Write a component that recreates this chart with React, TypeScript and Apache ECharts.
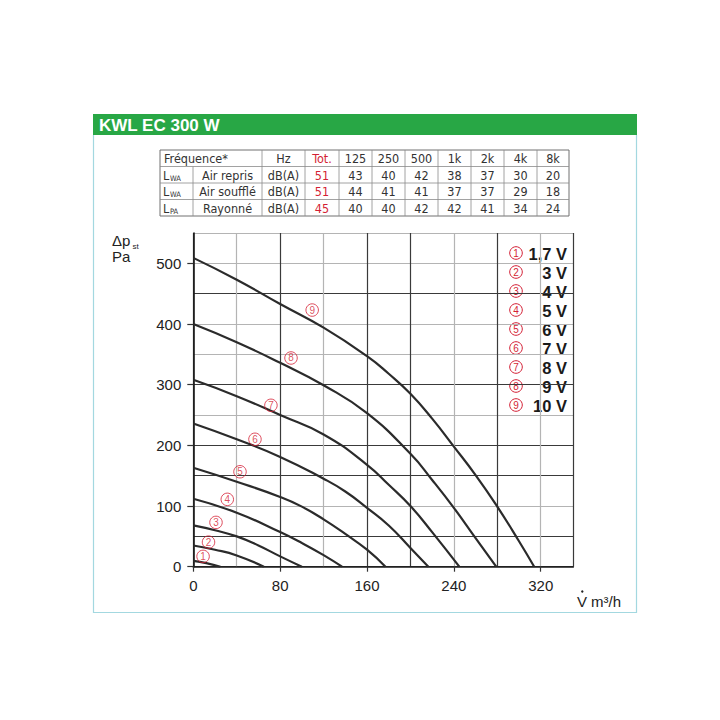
import React, { useEffect, useRef } from 'react';
import * as echarts from 'echarts';

// ---------- DATA ----------
const titleText = 'KWL EC 300 W';

const tableHeaderLabel = 'Fréquence*';
const tableUnitHeader = 'Hz';
const bandLabels = ['Tot.', '125', '250', '500', '1k', '2k', '4k', '8k'];
const rowQuantity = ['L', 'L', 'L'];
const rowQuantitySub = ['WA', 'WA', 'PA'];
const rowNames = ['Air repris', 'Air soufflé', 'Rayonné'];
const rowUnit = 'dB(A)';
const airReprisLevels = [51, 43, 40, 42, 38, 37, 30, 20];
const airSouffleLevels = [51, 44, 41, 41, 37, 37, 29, 18];
const rayonneLevels = [45, 40, 40, 42, 42, 41, 34, 24];

const curveMarks = ['1', '2', '3', '4', '5', '6', '7', '8', '9'];
const curveNames = ['1,7 V', '3 V', '4 V', '5 V', '6 V', '7 V', '8 V', '9 V', '10 V'];

const curve1_7V = [[0, 9.5], [12, 6], [25, 0]];
const curve3V = [[0, 35], [20, 28], [40, 18.5], [65, 0]];
const curve4V = [[0, 68], [20, 60], [40, 50], [60, 35], [80, 17], [100, 0]];
const curve5V = [[0, 112], [40, 89], [80, 57], [100, 39], [120, 19], [137, 0]];
const curve6V = [[0, 163], [40, 140], [80, 115], [100, 99], [120, 78], [140, 54], [160, 28], [177, 0]];
const curve7V = [[0, 236], [40, 210], [80, 181], [120, 145], [140, 124], [160, 97], [180, 68], [200, 31], [216.5, 0]];
const curve8V = [[0, 308], [40, 281], [80, 250], [120, 218], [160, 168], [180, 135], [200, 100], [220, 57], [245, 0]];
const curve9V = [[0, 400], [40, 370], [80, 336], [120, 299], [160, 253], [200, 186], [220, 143], [240, 97], [260, 47], [279, 0]];
const curve10V = [[0, 509], [40, 473], [80, 433], [120, 394], [160, 347], [180, 318], [200, 285], [220, 244], [240, 198], [260, 151], [280, 99], [300, 42], [314, 0]];
const curves = [curve1_7V, curve3V, curve4V, curve5V, curve6V, curve7V, curve8V, curve9V, curve10V];

const curveMarkPositions = [[9, 17], [14, 40.5], [20.9, 73], [31.3, 111], [43, 156.5], [56.8, 210], [71.5, 266], [90, 344], [109.5, 423]];

const xTickLabels = [0, 80, 160, 240, 320];
const yTickLabels = [0, 100, 200, 300, 400, 500];
const xDarkGrid = [0, 80, 160, 200, 280, 350];
const yDarkGrid = [0, 50, 150, 200, 300, 450];

// ---------- STYLE ----------
const FONT = "'Liberation Sans', Arial, Helvetica, sans-serif";
const NARROW = "'Liberation Sans Narrow', 'DejaVu Sans Condensed', 'Liberation Sans', sans-serif";
const RED = '#d41f35';
const DARK = '#3a3a3a';
const GRAY = '#b4b4b4';
const INK = '#2b2b2b';

const X_MIN = 0, X_MAX = 350, X_STEP = 40;
const Y_MIN = 0, Y_MAX = 550, Y_STEP = 50;

function gridColors(min: number, max: number, step: number, dark: number[]) {
  const out: string[] = [];
  for (let v = min; v < max; v += step) out.push(dark.includes(v) ? DARK : GRAY);
  out.push(dark.includes(max) ? DARK : GRAY);
  return out;
}

function buildGraphics() {
  const els: any[] = [];
  // frame
  const frameColor = '#a3d8e0';
  els.push({ type: 'rect', shape: { x: 93, y: 114, width: 544, height: 21 }, style: { fill: '#28a745' }, z: 1 });
  els.push({
    type: 'text', x: 99, y: 125, z: 2,
    style: { text: titleText, fill: '#ffffff', font: `bold 17px ${FONT}`, verticalAlign: 'middle', align: 'left' },
  });
  els.push({ type: 'polyline', shape: { points: [[93.5, 135], [93.5, 612.5], [636.5, 612.5], [636.5, 135]] }, style: { stroke: frameColor, lineWidth: 1.2, fill: 'none' }, z: 1 });

  // table
  const cols = [160, 193, 262, 305, 339, 372, 405, 438, 471, 504, 537, 569];
  const rows = [150, 166.5, 183, 199.5, 216];
  const tColor = '#333';
  els.push({ type: 'rect', shape: { x: cols[0], y: rows[0], width: cols[cols.length - 1] - cols[0], height: rows[rows.length - 1] - rows[0] }, style: { fill: '#fff', stroke: '#707070', lineWidth: 1 }, z: 1 });
  for (let r = 1; r < rows.length - 1; r++) {
    els.push({ type: 'line', shape: { x1: cols[0], y1: rows[r], x2: cols[cols.length - 1], y2: rows[r] }, style: { stroke: '#8a8a8a', lineWidth: 0.8 }, z: 1 });
  }
  els.push({ type: 'line', shape: { x1: cols[1], y1: rows[1], x2: cols[1], y2: rows[4] }, style: { stroke: '#8a8a8a', lineWidth: 0.8 }, z: 1 });
  for (let c = 2; c < cols.length - 1; c++) {
    els.push({ type: 'line', shape: { x1: cols[c], y1: rows[0], x2: cols[c], y2: rows[4] }, style: { stroke: '#8a8a8a', lineWidth: 0.8 }, z: 1 });
  }
  const cell = (text: string, x: number, y: number, align: string, color = tColor, size = 12.5) => ({
    type: 'text', x, y, z: 2,
    style: { text, fill: color, font: `${size}px ${NARROW}`, align, verticalAlign: 'middle' },
  });
  const midY = (r: number) => (rows[r] + rows[r + 1]) / 2 + 0.5;
  const midX = (c: number) => (cols[c] + cols[c + 1]) / 2;
  els.push(cell(tableHeaderLabel, 164, midY(0), 'left'));
  els.push(cell(tableUnitHeader, midX(2), midY(0), 'center'));
  bandLabels.forEach((b, i) => els.push(cell(b, midX(3 + i), midY(0), 'center', i === 0 ? RED : tColor)));
  const levels = [airReprisLevels, airSouffleLevels, rayonneLevels];
  for (let r = 0; r < 3; r++) {
    els.push(cell(rowQuantity[r], 163, midY(r + 1), 'left'));
    els.push(cell(rowQuantitySub[r], 170, midY(r + 1) + 3, 'left', tColor, 7.5));
    els.push(cell(rowNames[r], midX(1), midY(r + 1), 'center'));
    els.push(cell(rowUnit, midX(2), midY(r + 1), 'center'));
    levels[r].forEach((v, i) => els.push(cell(String(v), midX(3 + i), midY(r + 1), 'center', i === 0 ? RED : tColor)));
  }

  // axis names
  els.push({ type: 'text', x: 112, y: 233, style: { text: 'Δp', fill: '#222', font: `15px ${FONT}`, verticalAlign: 'top', lineHeight: 14 } });
  els.push({ type: 'text', x: 132.5, y: 242, style: { text: 'st', fill: '#222', font: `8px ${FONT}`, verticalAlign: 'top', lineHeight: 8 } });
  els.push({ type: 'text', x: 112, y: 249.5, style: { text: 'Pa', fill: '#222', font: `15px ${FONT}`, verticalAlign: 'top', lineHeight: 14 } });
  els.push({ type: 'text', x: 577, y: 601, style: { text: 'V', fill: '#222', font: `15px ${FONT}`, verticalAlign: 'middle' } });
  els.push({ type: 'circle', shape: { cx: 582.3, cy: 591.5, r: 1.2 }, style: { fill: '#222' } });
  els.push({ type: 'text', x: 591, y: 601, style: { text: 'm³/h', fill: '#222', font: `15px ${FONT}`, verticalAlign: 'middle' } });

  // legend
  const legendChildren: any[] = [
    { type: 'rect', shape: { x: 506, y: 237, width: 66, height: 180 }, style: { fill: '#ffffff' } },
  ];
  curveNames.forEach((n, i) => {
    const y = 253 + i * 19;
    legendChildren.push({ type: 'circle', shape: { cx: 516, cy: y, r: 6.3 }, style: { fill: 'none', stroke: RED, lineWidth: 1 } });
    legendChildren.push({ type: 'text', x: 516, y: y + 0.5, style: { text: curveMarks[i], fill: RED, font: `10px ${FONT}`, align: 'center', verticalAlign: 'middle', lineHeight: 10 } });
    legendChildren.push({ type: 'text', x: 567, y: y + 0.5, style: { text: n, fill: '#1a1a1a', font: `bold 16.5px ${FONT}`, align: 'right', verticalAlign: 'middle', lineHeight: 16 } });
  });
  els.push({ type: 'group', z: 20, children: legendChildren });
  return els;
}

function buildOption() {
  const xColors = gridColors(X_MIN, X_MAX, X_STEP, xDarkGrid);
  const yColors = gridColors(Y_MIN, Y_MAX, Y_STEP, yDarkGrid);
  const lineSeries = curves.map((data, i) => ({
    name: curveNames[i],
    type: 'line',
    data,
    smooth: 0.5,
    symbol: 'none',
    lineStyle: { color: INK, width: 2.2 },
    z: 5,
    silent: true,
  }));
  return {
    animation: false,
    backgroundColor: '#ffffff',
    grid: { left: 193.3, right: 720 - 573.3, top: 233, bottom: 720 - 566.7, containLabel: false },
    xAxis: [
      {
        type: 'value', min: X_MIN, max: X_MAX, interval: X_STEP,
        axisLine: { show: true, lineStyle: { color: '#1a1a1a', width: 1.6 } },
        axisTick: { show: false },
        axisLabel: {
          formatter: (v: number) => (xTickLabels.includes(v) ? String(v) : ''),
          fontSize: 15, color: '#222', fontFamily: FONT, margin: 11,
        },
        splitLine: { show: true, lineStyle: { color: xColors, width: 1.2 } },
      },
      {
        type: 'value', min: X_MIN, max: X_MAX, interval: X_STEP, position: 'bottom',
        axisLine: { show: false },
        axisTick: { show: true, length: 5, customValues: xTickLabels, lineStyle: { color: '#333', width: 1.2 } },
        axisLabel: { show: false },
        splitLine: { show: false },
      },
    ],
    yAxis: [
      {
        type: 'value', min: Y_MIN, max: Y_MAX, interval: Y_STEP,
        axisLine: { show: true, lineStyle: { color: '#1a1a1a', width: 1.6 } },
        axisTick: { show: false },
        axisLabel: {
          formatter: (v: number) => (yTickLabels.includes(v) ? String(v) : ''),
          fontSize: 15, color: '#222', fontFamily: FONT, margin: 12,
        },
        splitLine: { show: true, lineStyle: { color: yColors, width: 1.2 } },
      },
      {
        type: 'value', min: Y_MIN, max: Y_MAX, interval: Y_STEP, position: 'left',
        axisLine: { show: false },
        axisTick: { show: true, length: 6, customValues: yTickLabels, lineStyle: { color: '#333', width: 1.2 } },
        axisLabel: { show: false },
        splitLine: { show: false },
      },
    ],
    series: [
      ...lineSeries,
      {
        type: 'scatter',
        data: curveMarkPositions,
        symbol: 'circle',
        symbolSize: 12.5,
        itemStyle: { color: 'rgba(255,255,255,0)', borderColor: RED, borderWidth: 1 },
        silent: true,
        z: 6,
        label: {
          show: true,
          position: 'inside',
          formatter: (p: any) => curveMarks[p.dataIndex],
          color: RED,
          fontSize: 10,
          lineHeight: 10,
          fontFamily: FONT,
        },
      },
    ],
    graphic: buildGraphics(),
  };
}

export default function App() {
  const ref = useRef<HTMLDivElement>(null);
  useEffect(() => {
    if (!ref.current) return;
    const chart = echarts.init(ref.current, null, { renderer: 'svg' });
    chart.setOption(buildOption() as any);
    return () => chart.dispose();
  }, []);
  return (
    <div
      ref={ref}
      style={{ position: 'fixed', left: 0, top: 0, width: 720, height: 720, background: '#ffffff' }}
    />
  );
}
